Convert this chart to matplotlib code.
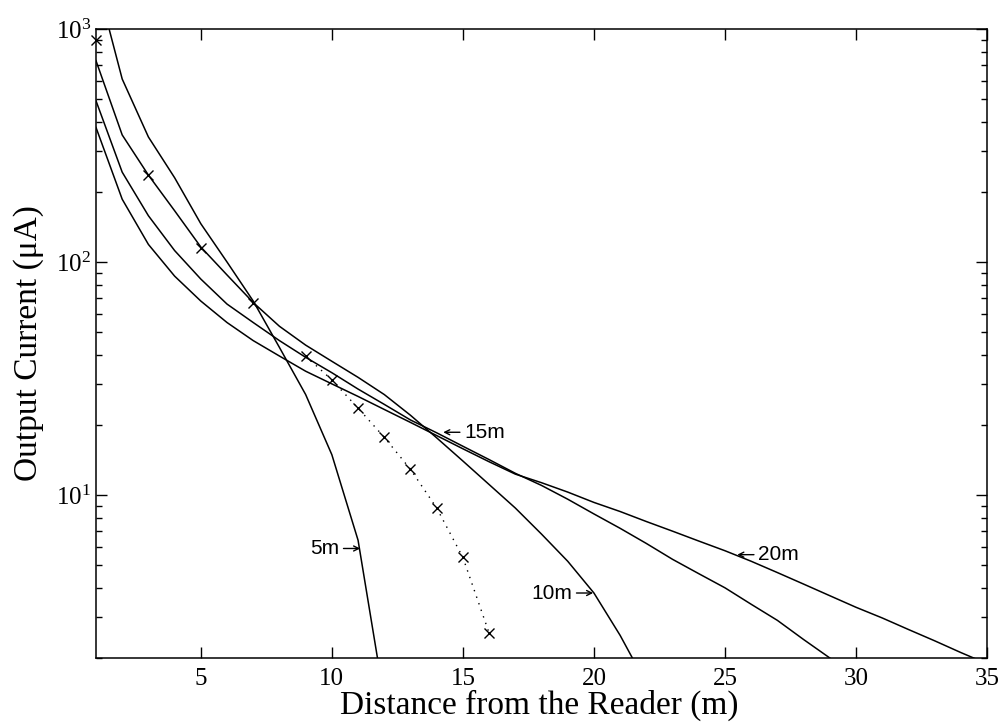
import numpy as np
import matplotlib
matplotlib.use('Agg')
import matplotlib.pyplot as plt
from matplotlib.ticker import LogLocator, FixedLocator, NullLocator, LogFormatterSciNotation

plt.rcParams['font.family'] = ['Liberation Serif', 'DejaVu Serif']
plt.rcParams['mathtext.fontset'] = 'custom'
plt.rcParams['mathtext.rm'] = 'Liberation Serif'
plt.rcParams['mathtext.it'] = 'Liberation Serif:italic'

# simulated output current (uA) vs distance (m), one curve per design distance
x_5m = [1, 2, 3, 4, 5, 6, 7, 8, 9, 10, 11, 12]
i_5m = [1640, 610, 344, 230, 146, 100, 68, 43, 27, 14.9, 6.4, 1.33]

x_10m = list(range(1, 23))
i_10m = [731, 351, 236, 166, 116, 88, 67, 53, 44, 37.5, 32, 27, 22, 17.6,
         14.0, 11.1, 8.8, 6.8, 5.2, 3.8, 2.5, 1.55]

x_15m = list(range(1, 31))
i_15m = [492, 243, 158, 112, 84.5, 66, 55, 46, 39, 33.5, 28.5, 24.5, 21, 18.5,
         16.2, 14.2, 12.4, 11.0, 9.6, 8.3, 7.2, 6.2, 5.3, 4.6, 4.0, 3.4, 2.9,
         2.4, 2.0, 1.65]

x_20m = list(range(1, 36))
i_20m = [378, 186, 119, 87, 68, 55, 46, 39.5, 34, 30, 26.5, 23.3, 20.5, 18.0,
         15.8, 13.9, 12.3, 11.3, 10.3, 9.3, 8.5, 7.7, 7.0, 6.35, 5.77, 5.2,
         4.65, 4.15, 3.7, 3.3, 2.97, 2.65, 2.37, 2.11, 1.89]

# measured points
x_meas = [1, 3, 5, 7, 9, 10, 11, 12, 13, 14, 15, 16]
i_meas = [897, 236, 115, 66.7, 39.5, 31.2, 23.6, 17.7, 12.9, 8.8, 5.4, 2.56]

fig = plt.figure(figsize=(10.03, 7.26), dpi=100)
ax = fig.add_axes([0.0957, 0.0937, 0.8884, 0.8664])

for xs, ys in [(x_5m, i_5m), (x_10m, i_10m), (x_15m, i_15m), (x_20m, i_20m)]:
    ax.plot(xs, ys, color='black', lw=1.1)
ax.plot(x_meas[4:], i_meas[4:], color='black', ls=(0, (1, 4)), lw=1.0)
ax.plot(x_meas, i_meas, color='black', ls='none', marker='x', ms=7, mew=1.0,
        clip_on=False, zorder=5)

ax.set_yscale('log')
ax.set_xlim(1, 35)
ax.set_ylim(2, 1000)

ax.xaxis.set_major_locator(FixedLocator([5, 10, 15, 20, 25, 30, 35]))
ax.xaxis.set_minor_locator(NullLocator())
ax.yaxis.set_major_locator(LogLocator(base=10, numticks=10))
ax.yaxis.set_minor_locator(LogLocator(base=10, subs=np.arange(2, 10), numticks=20))
ax.yaxis.set_major_formatter(LogFormatterSciNotation())
ax.tick_params(which='both', direction='in', top=True, right=True, labelsize=18)
ax.tick_params(axis='x', pad=7)
ax.tick_params(which='major', length=8, width=1)
ax.tick_params(which='minor', length=4, width=1)
for s in ax.spines.values():
    s.set_linewidth(1.1)

ax.set_xlabel('Distance from the Reader (m)', fontsize=24)
ax.set_ylabel('Output Current (\u03bcA)', fontsize=24)
ax.xaxis.set_label_coords(0.497, -0.050)
ax.yaxis.set_label_coords(-0.058, 0.5)

lab = dict(fontsize=15, family=['Liberation Sans', 'DejaVu Sans'], va='center',
           textcoords='offset points',
           arrowprops=dict(arrowstyle='->', lw=1.0, color='black',
                           shrinkA=1, shrinkB=0, mutation_scale=9))
ax.annotate('5m', xy=(11.08, 5.9), xytext=(-15, 0), ha='right', **lab)
ax.annotate('10m', xy=(19.97, 3.8), xytext=(-15, 0), ha='right', **lab)
ax.annotate('15m', xy=(14.25, 18.6), xytext=(15, 0), ha='left', **lab)
ax.annotate('20m', xy=(25.47, 5.55), xytext=(15, 0), ha='left', **lab)

fig.savefig('out.png', dpi=100)
